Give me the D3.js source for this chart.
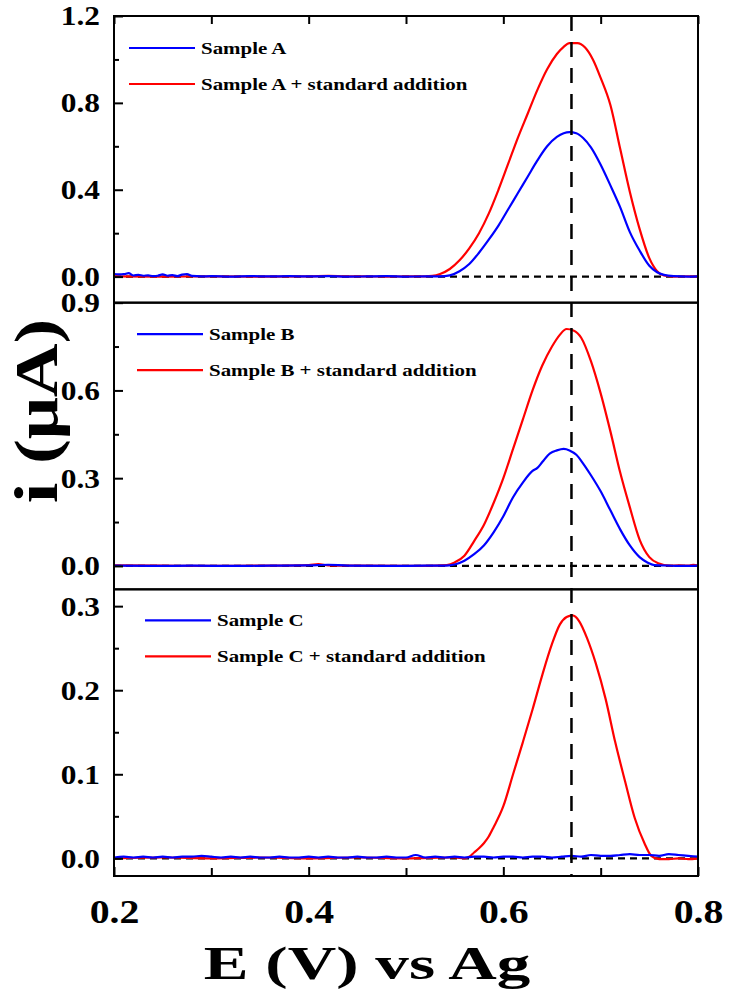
<!DOCTYPE html>
<html>
<head>
<meta charset="utf-8">
<script src="https://cdn.jsdelivr.net/npm/d3@7"></script>
<style>
  body { margin: 0; background: #fff; }
  svg text { font-family: "Liberation Serif", "Times New Roman", serif; font-weight: bold; fill: #000; }
  .line { fill: none; stroke-width: 2.2; stroke-linejoin: round; }
</style>
</head>
<body>
<svg width="730" height="1001"></svg>
<script>
// E (V) / i (uA) pairs
var sampleA = [[0.200,0.012],[0.205,0.010],[0.210,0.011],[0.215,0.016],[0.220,0.005],[0.225,0.008],[0.230,0.004],[0.235,0.006],[0.240,0.002],[0.245,0.004],[0.250,0.010],[0.255,0.004],[0.260,0.007],[0.265,0.002],[0.270,0.009],[0.275,0.011],[0.280,0.003],[0.29,0.001],[0.30,0.002],[0.32,0.000],[0.34,0.002],[0.36,0.001],[0.38,0.002],[0.40,0.001],[0.42,0.002],[0.44,0.000],[0.46,0.001],[0.48,0.002],[0.50,0.000],[0.52,0.001],[0.535,0.001],[0.545,0.006],[0.555,0.025],[0.565,0.058],[0.575,0.11],[0.585,0.17],[0.595,0.235],[0.605,0.31],[0.615,0.385],[0.625,0.46],[0.635,0.535],[0.645,0.60],[0.655,0.643],[0.662,0.66],[0.668,0.665],[0.675,0.66],[0.682,0.638],[0.69,0.595],[0.70,0.515],[0.71,0.42],[0.72,0.32],[0.73,0.205],[0.74,0.12],[0.75,0.05],[0.758,0.02],[0.765,0.008],[0.775,0.002],[0.79,0.000],[0.80,0.001]];
var sampleAStd = [[0.20,0.001],[0.25,0.000],[0.30,0.001],[0.35,0.000],[0.40,0.001],[0.42,0.004],[0.44,0.001],[0.46,0.001],[0.48,0.000],[0.50,0.001],[0.52,0.001],[0.527,0.003],[0.535,0.012],[0.545,0.035],[0.555,0.075],[0.565,0.13],[0.575,0.2],[0.585,0.29],[0.595,0.4],[0.605,0.52],[0.615,0.64],[0.625,0.75],[0.635,0.86],[0.645,0.955],[0.655,1.025],[0.662,1.058],[0.668,1.075],[0.676,1.075],[0.684,1.055],[0.692,1.0],[0.70,0.915],[0.71,0.79],[0.72,0.59],[0.73,0.39],[0.74,0.22],[0.75,0.085],[0.758,0.025],[0.765,0.005],[0.775,0.000],[0.79,0.001],[0.80,0.000]];
var sampleB = [[0.20,0.001],[0.24,0.000],[0.28,0.001],[0.32,0.000],[0.36,0.001],[0.40,0.002],[0.42,0.004],[0.44,0.001],[0.48,0.000],[0.52,0.001],[0.54,0.001],[0.55,0.005],[0.56,0.018],[0.57,0.04],[0.58,0.07],[0.59,0.115],[0.60,0.17],[0.61,0.235],[0.62,0.285],[0.63,0.325],[0.635,0.335],[0.64,0.355],[0.648,0.385],[0.655,0.395],[0.662,0.40],[0.668,0.395],[0.675,0.38],[0.682,0.35],[0.69,0.31],[0.70,0.255],[0.71,0.19],[0.72,0.125],[0.73,0.07],[0.74,0.03],[0.748,0.012],[0.755,0.003],[0.77,0.001],[0.78,0.000],[0.80,0.001]];
var sampleBStd = [[0.20,0.002],[0.25,0.001],[0.30,0.000],[0.35,0.001],[0.40,0.003],[0.41,0.006],[0.42,0.002],[0.45,0.001],[0.50,0.000],[0.53,0.001],[0.542,0.003],[0.55,0.012],[0.56,0.035],[0.57,0.085],[0.58,0.14],[0.59,0.215],[0.60,0.3],[0.61,0.4],[0.62,0.5],[0.63,0.6],[0.64,0.685],[0.65,0.75],[0.658,0.79],[0.665,0.81],[0.672,0.805],[0.68,0.78],[0.69,0.7],[0.70,0.59],[0.71,0.46],[0.72,0.32],[0.73,0.2],[0.74,0.09],[0.75,0.03],[0.76,0.008],[0.77,0.001],[0.78,0.002],[0.79,0.001],[0.795,0.004],[0.80,0.001]];
var sampleC = [[0.20,0.001],[0.21,0.002],[0.22,0.001],[0.23,0.002],[0.24,0.001],[0.25,0.002],[0.26,0.001],[0.27,0.002],[0.28,0.002],[0.29,0.003],[0.30,0.002],[0.31,0.001],[0.32,0.002],[0.33,0.001],[0.34,0.002],[0.35,0.001],[0.36,0.001],[0.37,0.002],[0.38,0.001],[0.39,0.001],[0.40,0.002],[0.41,0.001],[0.42,0.002],[0.43,0.001],[0.44,0.001],[0.45,0.002],[0.46,0.001],[0.47,0.001],[0.48,0.002],[0.49,0.001],[0.50,0.001],[0.51,0.004],[0.52,0.001],[0.53,0.002],[0.54,0.001],[0.55,0.002],[0.56,0.001],[0.57,0.002],[0.58,0.002],[0.59,0.001],[0.60,0.002],[0.61,0.002],[0.62,0.001],[0.63,0.002],[0.64,0.002],[0.65,0.001],[0.66,0.002],[0.67,0.003],[0.68,0.002],[0.69,0.004],[0.70,0.003],[0.71,0.003],[0.72,0.004],[0.73,0.005],[0.74,0.004],[0.75,0.004],[0.76,0.003],[0.77,0.005],[0.78,0.004],[0.79,0.003],[0.80,0.002]];
var sampleCStd = [[0.20,0.000],[0.25,0.001],[0.30,0.000],[0.35,0.001],[0.40,0.000],[0.45,0.001],[0.50,0.000],[0.55,0.001],[0.56,0.000],[0.565,0.002],[0.57,0.007],[0.575,0.012],[0.58,0.018],[0.585,0.026],[0.59,0.037],[0.60,0.062],[0.61,0.1],[0.62,0.138],[0.63,0.177],[0.64,0.218],[0.65,0.255],[0.658,0.278],[0.665,0.287],[0.671,0.289],[0.678,0.282],[0.686,0.262],[0.695,0.232],[0.705,0.19],[0.715,0.138],[0.725,0.092],[0.735,0.048],[0.745,0.018],[0.752,0.003],[0.76,-0.001],[0.77,-0.001],[0.78,0.000],[0.79,-0.001],[0.80,0.000]];

var legendLabels = [["Sample A", "Sample A + standard addition"],
                    ["Sample B", "Sample B + standard addition"],
                    ["Sample C", "Sample C + standard addition"]];
var yDomains = [[-0.12, 1.2], [-0.08, 0.9], [-0.021, 0.32]];
var yMajor = [[0, 0.4, 0.8, 1.2], [0, 0.3, 0.6, 0.9], [0, 0.1, 0.2, 0.3]];
var yMinor = [[0.2, 0.6, 1.0], [0.15, 0.45, 0.75], [0.05, 0.15, 0.25]];
var xMajor = [0.2, 0.4, 0.6, 0.8];
var xMinor = [0.3, 0.5, 0.7];
var peakE = 0.67;

var svg = d3.select("svg"),
  margin = { top: 16, right: 32, bottom: 125, left: 114 },
  width = svg.attr("width") - margin.left - margin.right,
  height = svg.attr("height") - margin.top - margin.bottom,
  panelH = height / 3,
  g = svg.append("g").attr("transform", "translate(" + margin.left + "," + margin.top + ")");

var x = d3.scaleLinear().domain([0.2, 0.8]).range([0, width]);
var fmt = d3.format(".1f");

// the source figure's lettering is wider than Liberation Serif, so widen glyphs
function widen(sel, k) {
  sel.each(function() {
    var len = this.getComputedTextLength();
    d3.select(this).attr("textLength", len * k).attr("lengthAdjust", "spacingAndGlyphs");
  });
}

var panels = [
  { blank: sampleA, std: sampleAStd },
  { blank: sampleB, std: sampleBStd },
  { blank: sampleC, std: sampleCStd }
];

panels.forEach(function(p, i) {
  var pg = g.append("g").attr("transform", "translate(0," + (i * panelH) + ")");
  var y = d3.scaleLinear().domain(yDomains[i]).range([panelH, 0]);

  var line = d3.line()
    .curve(d3.curveMonotoneX)
    .x(function(d) { return x(d[0]); })
    .y(function(d) { return y(d[1]); });

  // zero baseline
  pg.append("line")
    .attr("x1", 0).attr("x2", width)
    .attr("y1", y(0)).attr("y2", y(0))
    .attr("stroke", "#000").attr("stroke-width", 2.2)
    .attr("stroke-dasharray", "7,5");

  pg.append("path").attr("class", "line").attr("d", line(p.std)).style("stroke", "#ff0000");
  pg.append("path").attr("class", "line").attr("d", line(p.blank)).style("stroke", "#0000ff");

  // y axis, ticks inward
  var yAxis = pg.append("g").call(d3.axisLeft(y).tickValues(yMajor[i]).tickSize(-9).tickFormat(fmt).tickPadding(14));
  yAxis.select(".domain").remove();
  yAxis.selectAll("line").attr("stroke-width", 2);
  yAxis.selectAll("text").style("font-size", "28px").call(widen, 1.12);
  var yMin = pg.append("g").call(d3.axisLeft(y).tickValues(yMinor[i]).tickSize(-5).tickFormat(""));
  yMin.select(".domain").remove();
  yMin.selectAll("line").attr("stroke-width", 2);

  if (i == 0) {
    var top = pg.append("g").call(d3.axisTop(x).tickValues(xMajor.concat(xMinor)).tickSize(-8).tickFormat(""));
    top.select(".domain").remove();
    top.selectAll("line").attr("stroke-width", 2);
  }
  if (i == 2) {
    var bot = pg.append("g").attr("transform", "translate(0," + panelH + ")")
      .call(d3.axisBottom(x).tickValues(xMajor).tickSize(-9).tickFormat(fmt).tickPadding(23));
    bot.select(".domain").remove();
    bot.selectAll("line").attr("stroke-width", 2);
    bot.selectAll("text").style("font-size", "34px").call(widen, 1.17);
    var botMin = pg.append("g").attr("transform", "translate(0," + panelH + ")")
      .call(d3.axisBottom(x).tickValues(xMinor).tickSize(-8).tickFormat(""));
    botMin.select(".domain").remove();
    botMin.selectAll("line").attr("stroke-width", 2);
  }

  // frame
  pg.append("rect")
    .attr("width", width).attr("height", panelH)
    .attr("fill", "none").attr("stroke", "#000").attr("stroke-width", 2);

  // legend
  var leg = pg.append("g").attr("transform", "translate(" + (15 + i * 8) + "," + (32 - i * 0.5) + ")");
  [["#0000ff", legendLabels[i][0]], ["#ff0000", legendLabels[i][1]]].forEach(function(item, k) {
    leg.append("line")
      .attr("x1", 0).attr("x2", 66)
      .attr("y1", k * 36).attr("y2", k * 36)
      .attr("stroke", item[0]).attr("stroke-width", 2.2);
    leg.append("text")
      .attr("x", 72).attr("y", k * 36).attr("dy", "0.35em")
      .style("font-size", "17px")
      .text(item[1])
      .call(widen, 1.23);
  });
});

// peak position marker across all panels
g.append("line")
  .attr("x1", x(peakE)).attr("x2", x(peakE))
  .attr("y1", 0).attr("y2", height)
  .attr("stroke", "#000").attr("stroke-width", 2.5)
  .attr("stroke-dasharray", "15,11");

svg.append("text")
  .attr("x", 367).attr("y", 979)
  .attr("text-anchor", "middle")
  .style("font-size", "46px")
  .text("E (V) vs Ag")
  .call(widen, 1.46);

svg.append("text")
  .attr("transform", "translate(57,411) rotate(-90)")
  .attr("text-anchor", "middle")
  .style("font-size", "62px")
  .text("i (μA)")
  .call(widen, 1.2);
</script>
</body>
</html>
